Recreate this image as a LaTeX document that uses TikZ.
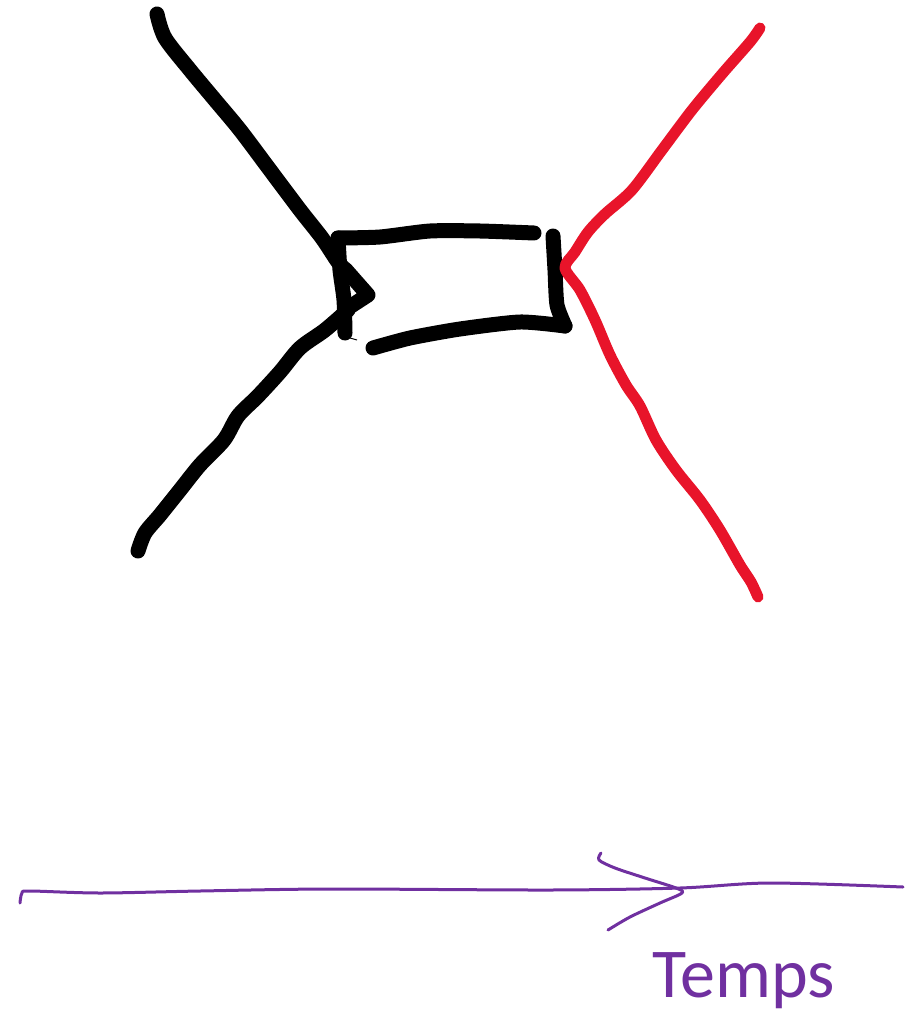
\documentclass[tikz,border=0pt]{standalone}
\usepackage{fontspec}
\newfontfamily\labelfont{Carlito}
\definecolor{inkred}{HTML}{E8142A}
\definecolor{inkpurple}{HTML}{7030A0}
\tikzset{
  blackstroke/.style={line width=15pt, line cap=round, line join=round, black},
  redstroke/.style={line width=11pt, line cap=round, line join=round, inkred},
  purplestroke/.style={line width=3pt, line cap=round, line join=round, inkpurple},
}
\begin{document}
\begin{tikzpicture}[x=1pt,y=-1pt]
\useasboundingbox (0,0) rectangle (917,1014);
% upper-left black line with triangle
\draw[blackstroke] plot[smooth,tension=0.5] coordinates {(157,14) (165,38) (190,70) (215,100) (240,130) (270,170) (300,210) (322,238) (338,262) (346,270)} -- (368,295) -- (348,308);
% lower-left black line
\draw[blackstroke] plot[smooth,tension=0.5] coordinates {(348,310) (325,330) (300,348) (280,372) (258,396) (238,416) (224,440) (200,465) (180,490) (160,515) (145,533) (138,551)};
% box
\draw[blackstroke] plot[smooth,tension=0.4] coordinates {(345,333) (344,300) (340,270) (338,238)};
\draw[blackstroke] plot[smooth,tension=0.4] coordinates {(338,238) (380,237) (430,231) (480,231) (534,233)};
\draw[blackstroke] plot[smooth,tension=0.4] coordinates {(553,236) (555,270) (557,305) (565,326)};
\draw[blackstroke] plot[smooth,tension=0.4] coordinates {(565,326) (520,322) (460,329) (410,338) (373,348)};
\draw[black, line width=1pt] (350,338) -- (357,340);
% red line
\draw[redstroke] plot[smooth,tension=0.5] coordinates {(760,28) (750,42) (722,74) (692,110) (662,150) (632,190) (605,214) (588,232) (575,252) (565,268) (580,290) (595,320) (610,355) (626,385) (640,406) (656,440) (676,470) (700,500) (720,530) (740,565) (751,582) (758,597)};
% time arrow
\draw[purplestroke] plot[smooth,tension=0.5] coordinates {(20,903) (22,893) (30,891) (100,893) (200,891) (330,889) (550,890) (680,888) (770,883) (903,887)};
\draw[purplestroke] plot[smooth,tension=0.5] coordinates {(601,853) (599,860) (615,868) (645,878) (676,888) (682,893) (660,903) (630,917) (608,930)};
\node[text=inkpurple, font=\labelfont\fontsize{70}{78}\selectfont, anchor=base, inner sep=0pt] (temps) at (744,997) {Temps};
\end{tikzpicture}
\end{document}
